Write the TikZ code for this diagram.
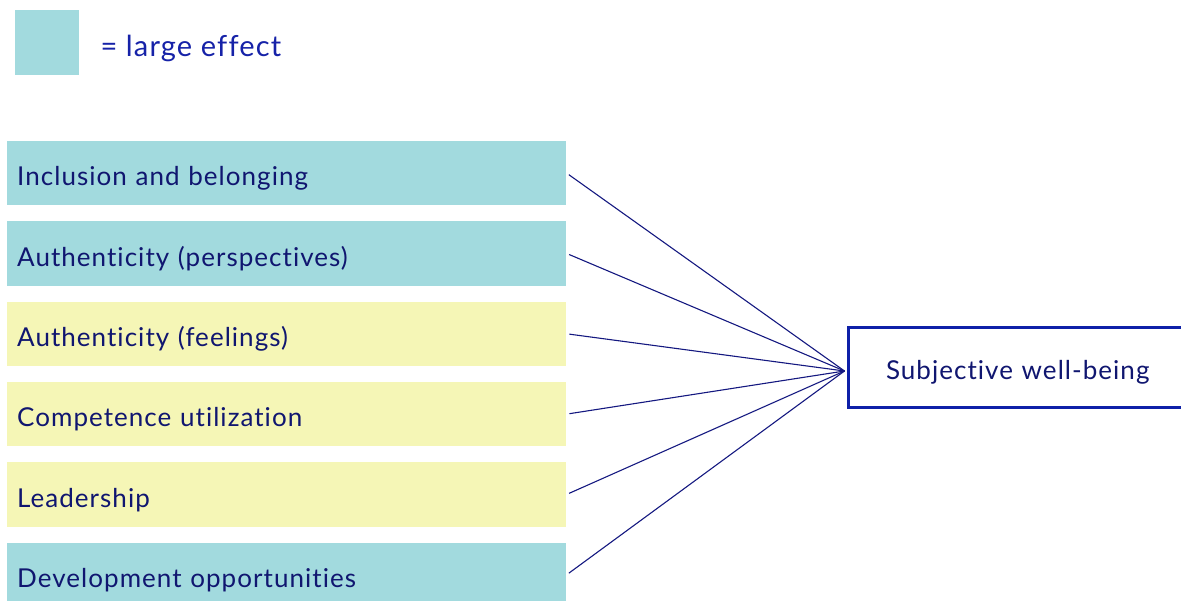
\documentclass[tikz,border=0pt]{standalone}
\usepackage{fontspec}
\setmainfont{Lato}[LetterSpace=4, Ligatures=NoCommon]
\usetikzlibrary{positioning}

\definecolor{bigfx}{RGB}{162,218,222}
\definecolor{smallfx}{RGB}{245,246,182}
\definecolor{inktext}{RGB}{16,22,112}
\definecolor{inkkey}{RGB}{22,34,168}
\definecolor{inkline}{RGB}{20,24,128}
\definecolor{inkbox}{RGB}{14,32,168}

\begin{document}
\begin{tikzpicture} [x=1pt,y=-1pt,
	factor/.style={anchor=north west, inner xsep=10pt, inner ysep=0pt,
		text width=539pt, minimum height=64.5pt, align=left,
		text height=27pt, text depth=1.5pt, text=inktext,
		font=\fontsize{26}{30}\selectfont},
	bigbox/.style={factor, fill=bigfx},
	smallbox/.style={factor, fill=smallfx},
	link/.style={draw=inkline, line width=1.1pt, shorten <=3pt},
	node distance=15.5pt]
\useasboundingbox (0,0) rectangle (1181,600);
\clip (0,0) rectangle (1181,600);

% key
\node[fill=bigfx, anchor=north west, inner sep=0pt,
	minimum width=64pt, minimum height=65pt] (key) at (15,10) {};
\node[right=21pt of key, inner sep=0pt, text=inkkey,
	text height=29pt, text depth=2pt,
	font=\fontsize{29}{34}\selectfont] (keytext) {= large effect};

% predictors
\node[bigbox] (inclusion) at (7,140.5) {Inclusion and belonging};
\node[bigbox, below=of inclusion] (authpersp) {Authenticity (perspectives)};
\node[smallbox, below=of authpersp] (authfeel) {Authenticity (feelings)};
\node[smallbox, below=of authfeel] (competence) {Competence utilization};
\node[smallbox, below=of competence] (leadership) {Leadership};
\node[bigbox, below=of leadership] (development) {Development opportunities};

% outcome
\node[draw=inkbox, line width=3pt, outer sep=0pt, fill=white, anchor=west,
	minimum height=80pt, text width=300pt, inner xsep=37.5pt, align=left,
	text height=27pt, text depth=1.5pt, text=inktext,
	font=\fontsize{26}{30}\selectfont] (swb) at (848.5,367) {Subjective well-being};
\coordinate (hub) at ([xshift=-4pt,yshift=-4pt]swb.west);

\draw[link] (inclusion.east) -- (hub);
\draw[link] (authpersp.east) -- (hub);
\draw[link] (authfeel.east) -- (hub);
\draw[link] (competence.east) -- (hub);
\draw[link] (leadership.east) -- (hub);
\draw[link] (development.east) -- (hub);
\end{tikzpicture}
\end{document}
